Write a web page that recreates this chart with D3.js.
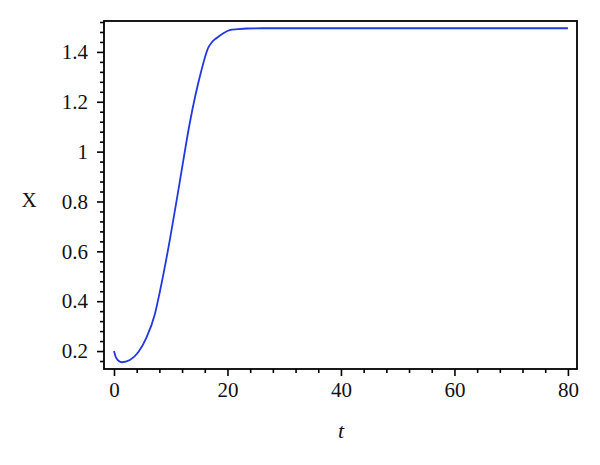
<!DOCTYPE html>
<html>
<head>
<meta charset="utf-8">
<script src="https://cdn.jsdelivr.net/npm/d3@7"></script>
<style>
  body { margin: 0; background: #fff; }
  text { font-family: "Liberation Serif", "DejaVu Serif", serif; }
</style>
</head>
<body>
<script>
// values
var tValues = [0, 0.4, 1.36, 2.8, 4.3, 5.7, 7.2, 8.1, 9.9, 11.6, 13.4, 15.3, 16.6, 17.3, 18.1, 19.2, 20.4, 21.8, 23.4, 26.3, 30, 40, 60, 80]
var xValues = [0.2, 0.172, 0.155, 0.164, 0.196, 0.253, 0.348, 0.44, 0.653, 0.88, 1.12, 1.316, 1.416, 1.44, 1.456, 1.474, 1.487, 1.491, 1.494, 1.495, 1.495, 1.495, 1.495, 1.495]
var xMajor = [0, 20, 40, 60, 80]
var yMajor = [0.2, 0.4, 0.6, 0.8, 1, 1.2, 1.4]

var data = tValues.map(function(t, i){ return {t: t, x: xValues[i]} })

var W = 600, H = 465
var pLeft = 104, pRight = 577, pTop = 21, pBottom = 369

var svg = d3.select("body").append("svg")
  .attr("width", W)
  .attr("height", H)

var xScale = d3.scaleLinear().domain([-1.76, 81.6]).range([pLeft, pRight])
var yScale = d3.scaleLinear().domain([0.128, 1.524]).range([pBottom, pTop])

/* minor ticks */
var xMinor = d3.range(0, 81, 4).filter(function(d){ return xMajor.indexOf(d) < 0 })
var yMinor = d3.range(0.16, 1.53, 0.04).map(function(d){ return +d.toFixed(2) })
  .filter(function(d){ return !yMajor.some(function(m){ return Math.abs(m - d) < 1e-6 }) })

var xAxisMinor = d3.axisBottom(xScale).tickValues(xMinor).tickSize(4).tickFormat("").tickSizeOuter(0)
var yAxisMinor = d3.axisLeft(yScale).tickValues(yMinor).tickSize(4).tickFormat("").tickSizeOuter(0)
var xAxis = d3.axisBottom(xScale).tickValues(xMajor).tickSize(7).tickPadding(6).tickSizeOuter(0)
  .tickFormat(d3.format("d"))
var yAxis = d3.axisLeft(yScale).tickValues(yMajor).tickSize(7).tickPadding(9).tickSizeOuter(0)
  .tickFormat(function(d){ return d === 1 ? "1" : d3.format(".1f")(d) })

function styleAxis(g){
  g.select(".domain").remove()
  g.selectAll("line").attr("stroke", "#000").attr("stroke-width", 1.6)
  g.selectAll("text").attr("fill", "#111").style("font-size", "21px")
    .style("font-family", "'Liberation Serif', serif")
}

svg.append("g").attr("transform", "translate(0," + pBottom + ")").call(xAxisMinor).call(styleAxis)
svg.append("g").attr("transform", "translate(" + pLeft + ",0)").call(yAxisMinor).call(styleAxis)
svg.append("g").attr("transform", "translate(0," + pBottom + ")").call(xAxis).call(styleAxis)
svg.append("g").attr("transform", "translate(" + pLeft + ",0)").call(yAxis).call(styleAxis)

/* frame */
svg.append("rect")
  .attr("x", pLeft)
  .attr("y", pTop)
  .attr("width", pRight - pLeft)
  .attr("height", pBottom - pTop)
  .attr("fill", "none")
  .attr("stroke", "#000")
  .attr("stroke-width", 1.8)

/* curve */
var line = d3.line()
  .x(function(d){ return xScale(d.t) })
  .y(function(d){ return yScale(d.x) })
  .curve(d3.curveMonotoneX)

svg.append("path")
  .datum(data)
  .attr("d", line)
  .attr("fill", "none")
  .attr("stroke", "#2038e0")
  .attr("stroke-width", 1.8)

/* axis labels */
svg.append("text")
  .attr("x", 29)
  .attr("y", 207)
  .attr("text-anchor", "middle")
  .style("font-size", "21px")
  .attr("fill", "#111")
  .text("X")

svg.append("text")
  .attr("x", 341)
  .attr("y", 438)
  .attr("text-anchor", "middle")
  .style("font-size", "22px")
  .style("font-style", "italic")
  .attr("fill", "#111")
  .text("t")
</script>
</body>
</html>
